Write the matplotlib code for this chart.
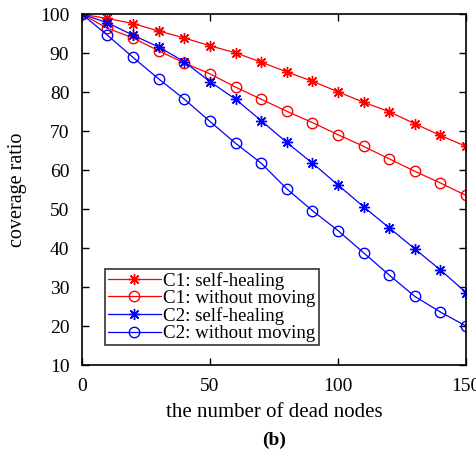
import matplotlib
matplotlib.use("Agg")
import matplotlib.pyplot as plt

x = [0, 10, 20, 30, 40, 50, 60, 70, 80, 90, 100, 110, 120, 130, 140, 150]
c1_heal = [100, 98.9, 97.6, 95.7, 93.9, 91.9, 90.1, 87.7, 85.2, 82.8, 80.1, 77.4, 75.0, 71.9, 68.9, 66.1]
c1_nomove = [100, 96.4, 93.9, 90.6, 87.5, 84.7, 81.3, 78.2, 75.1, 72.2, 69.1, 66.1, 62.9, 59.7, 56.7, 53.5]
c2_heal = [100, 97.8, 94.6, 91.6, 87.8, 82.7, 78.2, 72.7, 67.1, 61.8, 56.2, 50.6, 45.2, 39.8, 34.4, 28.6]
c2_nomove = [100, 94.6, 88.9, 83.4, 78.2, 72.5, 66.9, 61.8, 55.2, 49.6, 44.5, 38.8, 33.1, 27.6, 23.6, 20.0]
labels = ["C1: self-healing", "C1: without moving", "C2: self-healing", "C2: without moving"]

plt.rcParams['font.family'] = ['Liberation Serif', 'DejaVu Serif']
fig = plt.figure(figsize=(4.76, 4.58), dpi=100)
ax = fig.add_axes([0.172, 0.203, 0.807, 0.766])

star = (8, 2, 0)
ax.plot(x, c1_heal, color='#ff0000', marker=star, ms=8, mew=1.0, lw=0.9, label=labels[0])
ax.plot(x, c1_nomove, color='#ff0000', marker='o', ms=7.5, mfc='none', mew=1.0, lw=0.9, label=labels[1])
ax.plot(x, c2_heal, color='#0000ff', marker=star, ms=8, mew=1.0, lw=0.9, label=labels[2])
ax.plot(x, c2_nomove, color='#0000ff', marker='o', ms=7.5, mfc='none', mew=1.0, lw=0.9, label=labels[3])

ax.set_xlim(0, 150)
ax.set_ylim(10, 100)
ax.set_xticks([0, 50, 100, 150])
ax.set_yticks(range(10, 101, 10))
ax.tick_params(direction='in', top=True, right=True, labelsize=14, length=5, width=1)
ax.tick_params(axis='x', pad=9)
ax.tick_params(axis='y', pad=9)
for s in ax.spines.values():
    s.set_linewidth(1.2)
ax.set_xlabel("the number of dead nodes", fontsize=15, labelpad=6)
ax.set_ylabel("coverage ratio", fontsize=14.5)
ax.yaxis.set_label_coords(-0.143, 0.5)

leg = ax.legend(loc='lower left', bbox_to_anchor=(0.06, 0.057), fontsize=13.6, frameon=True,
                fancybox=False, edgecolor='black', handlelength=2.8, handletextpad=0.15,
                borderpad=0.15, labelspacing=0.0, borderaxespad=0)
leg.get_frame().set_linewidth(1.2)

fig.text(0.5 * (0.172 + 0.979), 0.038, "(b)", ha='center', va='center', fontsize=14, fontweight='bold')

fig.savefig("out.png", dpi=100)
